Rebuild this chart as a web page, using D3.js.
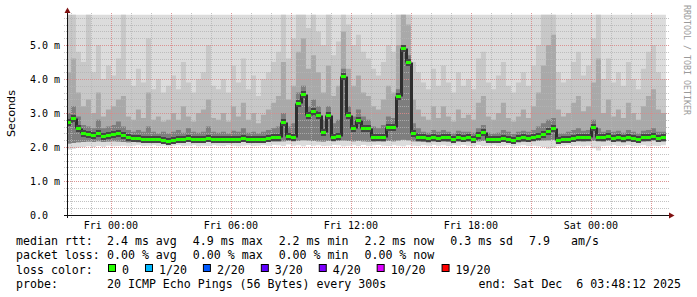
<!DOCTYPE html>
<html lang="en">
<head>
<meta charset="UTF-8">
<title>smokeping rtt</title>
<script src="https://cdn.jsdelivr.net/npm/d3@7"></script>
<style>
    body{ margin:0; background:#fff; }
    svg{ display:block; }
    text{ font-family:"DejaVu Sans Mono", monospace; fill:#000; }
</style>
</head>
<body>
<svg id="chart" width="697" height="297"></svg>
<script>
// 15 minute bins, first bin starts Thu Dec 4 21:45 (graph shows 21:48:12 .. Sat 03:48:12)
const binStart = Date.UTC(2025, 11, 4, 21, 45, 0);
const binMinutes = 15;

// median rtt (ms)
const median = [
    2.75,2.85,2.55,2.42,2.38,2.36,2.40,2.33,2.36,2.38,
    2.42,2.35,2.30,2.27,2.27,2.24,2.25,2.23,2.24,2.21,
    2.19,2.20,2.23,2.24,2.26,2.25,2.23,2.24,2.27,2.25,
    2.24,2.24,2.23,2.25,2.24,2.26,2.24,2.25,2.23,2.25,
    2.27,2.28,2.28,2.75,2.31,2.30,3.30,3.55,2.95,3.05,
    2.95,2.45,2.95,2.30,2.32,4.10,2.95,2.55,2.80,2.55,
    2.55,2.28,2.28,2.28,2.60,2.60,3.50,4.90,4.50,2.40,
    2.30,2.28,2.26,2.29,2.27,2.30,2.28,2.25,2.29,2.27,
    2.28,2.25,2.35,2.45,2.25,2.25,2.23,2.27,2.25,2.22,
    2.26,2.28,2.27,2.30,2.33,2.38,2.48,2.55,2.22,2.24,
    2.25,2.27,2.30,2.28,2.30,2.58,2.30,2.28,2.32,2.27,
    2.29,2.26,2.30,2.27,2.25,2.28,2.30,2.33,2.27,2.28
];
// lowest ping (bottom of the smoke)
const pingMin = [
    1.93,1.95,1.98,2.00,2.02,2.00,2.03,2.01,2.04,2.02,
    2.03,2.04,2.02,2.04,2.05,2.03,2.04,2.05,2.03,2.04,
    2.02,2.04,2.05,2.03,2.04,2.05,2.02,2.04,2.03,2.05,
    2.04,2.03,2.05,2.04,2.02,2.04,2.05,2.03,2.04,2.05,
    2.04,2.06,2.05,2.03,2.07,2.04,2.05,2.02,2.06,2.04,
    2.05,2.03,2.04,2.06,2.05,2.02,2.04,2.05,2.03,2.06,
    2.04,2.05,2.06,2.04,2.03,2.05,2.04,2.02,2.05,2.04,
    2.03,2.05,2.04,2.06,2.04,2.05,2.03,2.05,2.04,2.06,
    2.04,2.02,2.05,2.03,2.04,2.05,2.03,2.04,2.05,2.02,
    2.04,2.05,2.03,2.04,2.02,2.00,1.95,1.98,2.03,2.04,
    2.05,2.03,2.04,2.02,2.04,1.96,1.90,2.03,2.04,2.05,
    2.03,2.04,2.05,2.03,2.04,2.05,2.02,2.04,2.03,2.05
];
// low pings (bottom of the darker smoke)
const pingLow = [
    2.10,2.12,2.14,2.15,2.16,2.15,2.17,2.15,2.16,2.17,
    2.16,2.15,2.14,2.15,2.14,2.13,2.14,2.13,2.14,2.12,
    2.11,2.12,2.13,2.14,2.15,2.14,2.13,2.14,2.15,2.14,
    2.13,2.14,2.13,2.15,2.14,2.15,2.14,2.15,2.13,2.14,
    2.15,2.16,2.16,2.17,2.18,2.17,2.18,2.20,2.19,2.18,
    2.17,2.16,2.18,2.17,2.18,2.19,2.18,2.17,2.18,2.17,
    2.16,2.16,2.17,2.16,2.18,2.17,2.19,2.21,2.20,2.17,
    2.16,2.15,2.14,2.16,2.15,2.16,2.15,2.14,2.16,2.15,
    2.16,2.14,2.17,2.18,2.14,2.14,2.13,2.15,2.14,2.12,
    2.14,2.15,2.15,2.17,2.18,2.19,2.20,2.21,2.12,2.13,
    2.14,2.15,2.17,2.16,2.17,2.18,2.17,2.16,2.18,2.15,
    2.16,2.14,2.17,2.15,2.14,2.16,2.17,2.19,2.15,2.16
];
// upper pings: top of the dark smoke
const pingHi1 = [
    3.0,3.2,2.9,2.65,2.6,2.55,2.8,2.55,2.6,2.65,
    2.75,2.6,2.5,2.45,2.5,2.45,2.6,2.45,2.4,2.45,
    2.4,2.45,2.5,2.42,2.55,2.45,2.42,2.45,2.6,2.45,
    2.42,2.45,2.4,2.48,2.45,2.55,2.42,2.45,2.4,2.45,
    2.5,2.55,2.6,3.0,2.6,2.7,3.6,3.8,3.2,3.4,
    3.2,2.8,3.2,2.7,2.8,4.3,3.2,2.9,3.1,2.9,
    2.8,2.6,2.55,2.65,2.9,2.85,3.7,5.0,4.7,2.7,
    2.55,2.45,2.42,2.5,2.45,2.5,2.45,2.4,2.48,2.45,
    2.45,2.42,2.55,2.65,2.42,2.4,2.42,2.5,2.45,2.38,
    2.45,2.48,2.45,2.5,2.6,2.7,2.8,2.85,2.4,2.4,
    2.45,2.5,2.55,2.48,2.5,2.8,2.55,2.45,2.5,2.45,
    2.48,2.42,2.5,2.45,2.4,2.48,2.5,2.55,2.45,2.45
];
// upper pings: top of the mid grey smoke
const pingHi2 = [
    4.2,4.6,3.6,3.2,3.4,3.0,3.6,2.9,3.1,3.2,
    3.4,3.5,2.9,2.8,3.1,2.85,3.6,2.8,2.9,2.75,
    2.8,3.0,2.8,3.2,2.9,2.75,3.0,3.1,3.4,2.85,
    2.8,3.0,2.75,3.2,2.9,3.3,2.8,3.0,2.7,2.95,
    3.1,3.3,3.5,4.5,3.4,3.8,4.8,5.2,4.3,4.7,
    4.2,3.6,4.4,3.5,3.8,5.4,4.3,3.8,4.1,3.6,
    3.5,3.2,3.1,3.4,3.8,3.6,5.0,5.9,5.6,3.4,
    3.1,2.9,2.8,3.2,2.85,3.2,2.9,2.75,3.1,2.85,
    2.95,2.8,3.3,3.5,2.9,2.8,3.0,3.3,2.85,2.75,
    2.9,3.1,2.85,3.2,3.6,4.4,5.0,5.3,3.1,2.9,
    3.0,3.3,3.5,3.05,3.2,3.9,4.6,3.0,3.4,2.9,
    3.1,2.85,3.3,3.0,2.8,3.2,3.5,3.7,3.1,3.0
];
// upper pings: top of the light grey smoke (max pings are all above the top)
const pingHi3 = [
    5.9,5.9,4.8,4.5,5.9,4.2,5.0,4.0,4.4,4.1,
    4.6,5.9,4.0,3.8,4.3,3.9,5.2,3.7,4.0,3.6,
    3.8,4.1,3.7,4.5,3.9,3.6,4.0,4.2,5.0,3.8,
    3.7,4.0,3.6,4.4,3.9,4.6,3.7,4.1,3.5,4.0,
    4.2,4.5,4.8,5.9,4.6,5.2,5.9,5.9,5.5,5.9,
    5.4,5.0,5.9,4.7,5.1,5.9,5.6,5.0,5.3,4.8,
    4.6,4.3,4.1,4.5,5.0,4.8,5.9,5.9,5.9,4.5,
    4.2,3.9,3.7,4.3,3.8,4.4,3.9,3.6,4.2,3.8,
    4.0,3.7,4.6,4.8,3.9,3.7,4.1,4.5,3.8,3.6,
    3.9,4.2,3.8,4.4,5.0,5.9,5.9,5.9,4.2,3.9,
    4.0,4.5,4.8,4.1,4.4,5.2,5.9,4.0,4.6,3.9,
    4.2,3.8,4.5,4.0,3.7,4.3,4.8,5.0,4.2,4.0
];

const yMax = 5.9;
const yLabels = ["0.0", "1.0 m", "2.0 m", "3.0 m", "4.0 m", "5.0 m"];
const lossLabels = ["0", "1/20", "2/20", "3/20", "4/20", "10/20", "19/20"];
const lossColors = ["#26ff00", "#00b8ff", "#0059ff", "#5e00ff", "#7e00ff", "#dd00ff", "#ff0000"];
const rttItems = ["2.4 ms avg", "4.9 ms max", "2.2 ms min", "2.2 ms now", "0.3 ms sd", "7.9   am/s"];
const lossItems = ["0.00 % avg", "0.00 % max", "0.00 % min", "0.00 % now"];
const probeText = "20 ICMP Echo Pings (56 Bytes) every 300s";
const endText = "end: Sat Dec  6 03:48:12 2025";

const nb = s => s.replace(/ /g, "\u00a0");

const svg = d3.select("#chart");
const tStart = new Date(Date.UTC(2025, 11, 4, 21, 48, 12));
const tEnd = new Date(Date.UTC(2025, 11, 6, 3, 48, 12));

const x = d3.scaleUtc().domain([tStart, tEnd]).range([67, 667]);
const y = d3.scaleLinear().domain([0, yMax]).range([215, 215 - yMax * 34]);

svg.append("clipPath").attr("id", "plotclip")
    .append("rect").attr("x", 67).attr("y", y(yMax)).attr("width", 600).attr("height", 215 - y(yMax));

// bin times, plus one closing time for the step curves
const times = d3.range(median.length + 1).map(i => d3.utcMinute.offset(new Date(binStart), i * binMinutes));
const idx = d3.range(times.length);
const v = (arr, i) => arr[Math.min(i, arr.length - 1)];

function band(lo, hi) {
    return d3.area().curve(d3.curveStepAfter)
        .x(i => x(times[i]))
        .y0(i => y(lo(i)))
        .y1(i => y(hi(i)));
}

const g = svg.append("g").attr("clip-path", "url(#plotclip)");
g.append("path").datum(idx).attr("fill", "#dcdcdc")
    .attr("d", band(i => v(pingMin, i), i => yMax));
g.append("path").datum(idx).attr("fill", "#c8c8c8")
    .attr("d", band(i => v(pingLow, i), i => v(pingHi3, i)));
g.append("path").datum(idx).attr("fill", "#a9a9a9")
    .attr("d", band(i => v(pingLow, i), i => v(pingHi2, i)));
g.append("path").datum(idx).attr("fill", "#7e7e7e")
    .attr("d", band(i => v(pingLow, i), i => v(pingHi1, i)));

// grid
const grid = svg.append("g");
d3.range(1, 30).forEach(k => {
    const yy = Math.round(y(k * 0.2)) + 0.5;
    const major = k % 5 === 0;
    grid.append("line")
        .attr("x1", 64).attr("x2", 670).attr("y1", yy).attr("y2", yy)
        .attr("stroke", major ? "#d98a8a" : "#b4b4b4")
        .attr("stroke-opacity", major ? 0.9 : 0.8)
        .attr("stroke-dasharray", "1,1");
});
d3.utcHour.range(tStart, tEnd).forEach(t => {
    const xx = Math.round(x(t)) + 0.5;
    const major = t.getUTCHours() % 3 === 0;
    grid.append("line")
        .attr("x1", xx).attr("x2", xx).attr("y1", 13).attr("y2", 218)
        .attr("stroke", major ? "#d98a8a" : "#b4b4b4")
        .attr("stroke-opacity", major ? 0.9 : 0.8)
        .attr("stroke-dasharray", "1,1");
});

// median: dark core of the smoke, thin dark risers, then green segments
const med = svg.append("g").attr("clip-path", "url(#plotclip)");
const my = d => Math.round(y(d)) + 0.5;
med.selectAll("line.riser").data(median.slice(1)).join("line").attr("class", "riser")
    .attr("x1", (d, i) => Math.round(x(times[i + 1])) + 0.5)
    .attr("x2", (d, i) => Math.round(x(times[i + 1])) + 0.5)
    .attr("y1", (d, i) => my(median[i]))
    .attr("y2", d => my(d))
    .attr("stroke", "#2e2e2e").attr("stroke-width", 3);
med.selectAll("line.core").data(median).join("line").attr("class", "core")
    .attr("x1", (d, i) => x(times[i]))
    .attr("x2", (d, i) => x(times[i + 1]))
    .attr("y1", d => my(d)).attr("y2", d => my(d))
    .attr("stroke", "#454545").attr("stroke-width", 7);
med.selectAll("line.med").data(median).join("line").attr("class", "med")
    .attr("x1", (d, i) => x(times[i]))
    .attr("x2", (d, i) => x(times[i + 1]))
    .attr("y1", d => my(d)).attr("y2", d => my(d))
    .attr("stroke", lossColors[0]).attr("stroke-width", 3);

// axes
svg.append("line").attr("x1", 64).attr("x2", 670).attr("y1", 215.5).attr("y2", 215.5)
    .attr("stroke", "#111");
svg.append("line").attr("x1", 67.5).attr("x2", 67.5).attr("y1", 218).attr("y2", 12)
    .attr("stroke", "#111");
svg.append("path").attr("d", "M669,212.5L669,218.5L674.5,215.5Z").attr("fill", "#7f1010");
svg.append("path").attr("d", "M64.5,13L70.5,13L67.5,7.5Z").attr("fill", "#7f1010");

// tick labels
svg.selectAll("text.ylab").data(yLabels).join("text").attr("class", "ylab")
    .attr("x", 30).attr("y", (d, i) => Math.round(y(i)) + 4)
    .attr("font-size", 10)
    .text(d => nb(d));
const fmt = d3.utcFormat("%a %H:%M");
svg.selectAll("text.xlab").data(d3.utcHour.every(6).range(tStart, tEnd)).join("text").attr("class", "xlab")
    .attr("x", d => x(d)).attr("y", 229)
    .attr("text-anchor", "middle").attr("font-size", 10)
    .text(d => fmt(d));

svg.append("text")
    .attr("transform", "translate(14.5,113.5) rotate(-90)")
    .attr("text-anchor", "middle")
    .style("font-family", "'DejaVu Sans', sans-serif").attr("font-size", 11.2)
    .text("Seconds");
svg.append("text")
    .attr("transform", "translate(684,5) rotate(90)")
    .attr("font-size", 8.3).style("fill", "#9a9a9a")
    .text("RRDTOOL / TOBI OETIKER");

// legend
const leg = svg.append("g").attr("font-size", 11.6);
const rowY = [245, 259.3, 273.5, 287.7];
function itemRow(label, items, yy, gap) {
    leg.append("text").attr("x", 16).attr("y", yy).text(nb(label));
    let xx = 107;
    items.forEach(s => {
        const t = leg.append("text").attr("x", xx).attr("y", yy).text(nb(s));
        xx += t.node().getComputedTextLength() + gap;
    });
}
itemRow("median rtt:", rttItems, rowY[0], 16);
itemRow("packet loss:", lossItems, rowY[1], 16);

leg.append("text").attr("x", 16).attr("y", rowY[2]).text(nb("loss color:"));
let lx = 107;
lossLabels.forEach((s, i) => {
    leg.append("rect").attr("x", lx + 1.5).attr("y", rowY[2] - 9)
        .attr("width", 7).attr("height", 7)
        .attr("fill", lossColors[i]).attr("stroke", "#000").attr("stroke-width", 1);
    const t = leg.append("text").attr("x", lx + 15).attr("y", rowY[2]).text(s);
    lx += 15 + t.node().getComputedTextLength() + 15;
});

leg.append("text").attr("x", 16).attr("y", rowY[3]).text("probe:");
leg.append("text").attr("x", 107).attr("y", rowY[3]).text(nb(probeText));
leg.append("text").attr("x", 681).attr("y", rowY[3]).attr("text-anchor", "end").text(nb(endText));
</script>
</body>
</html>
